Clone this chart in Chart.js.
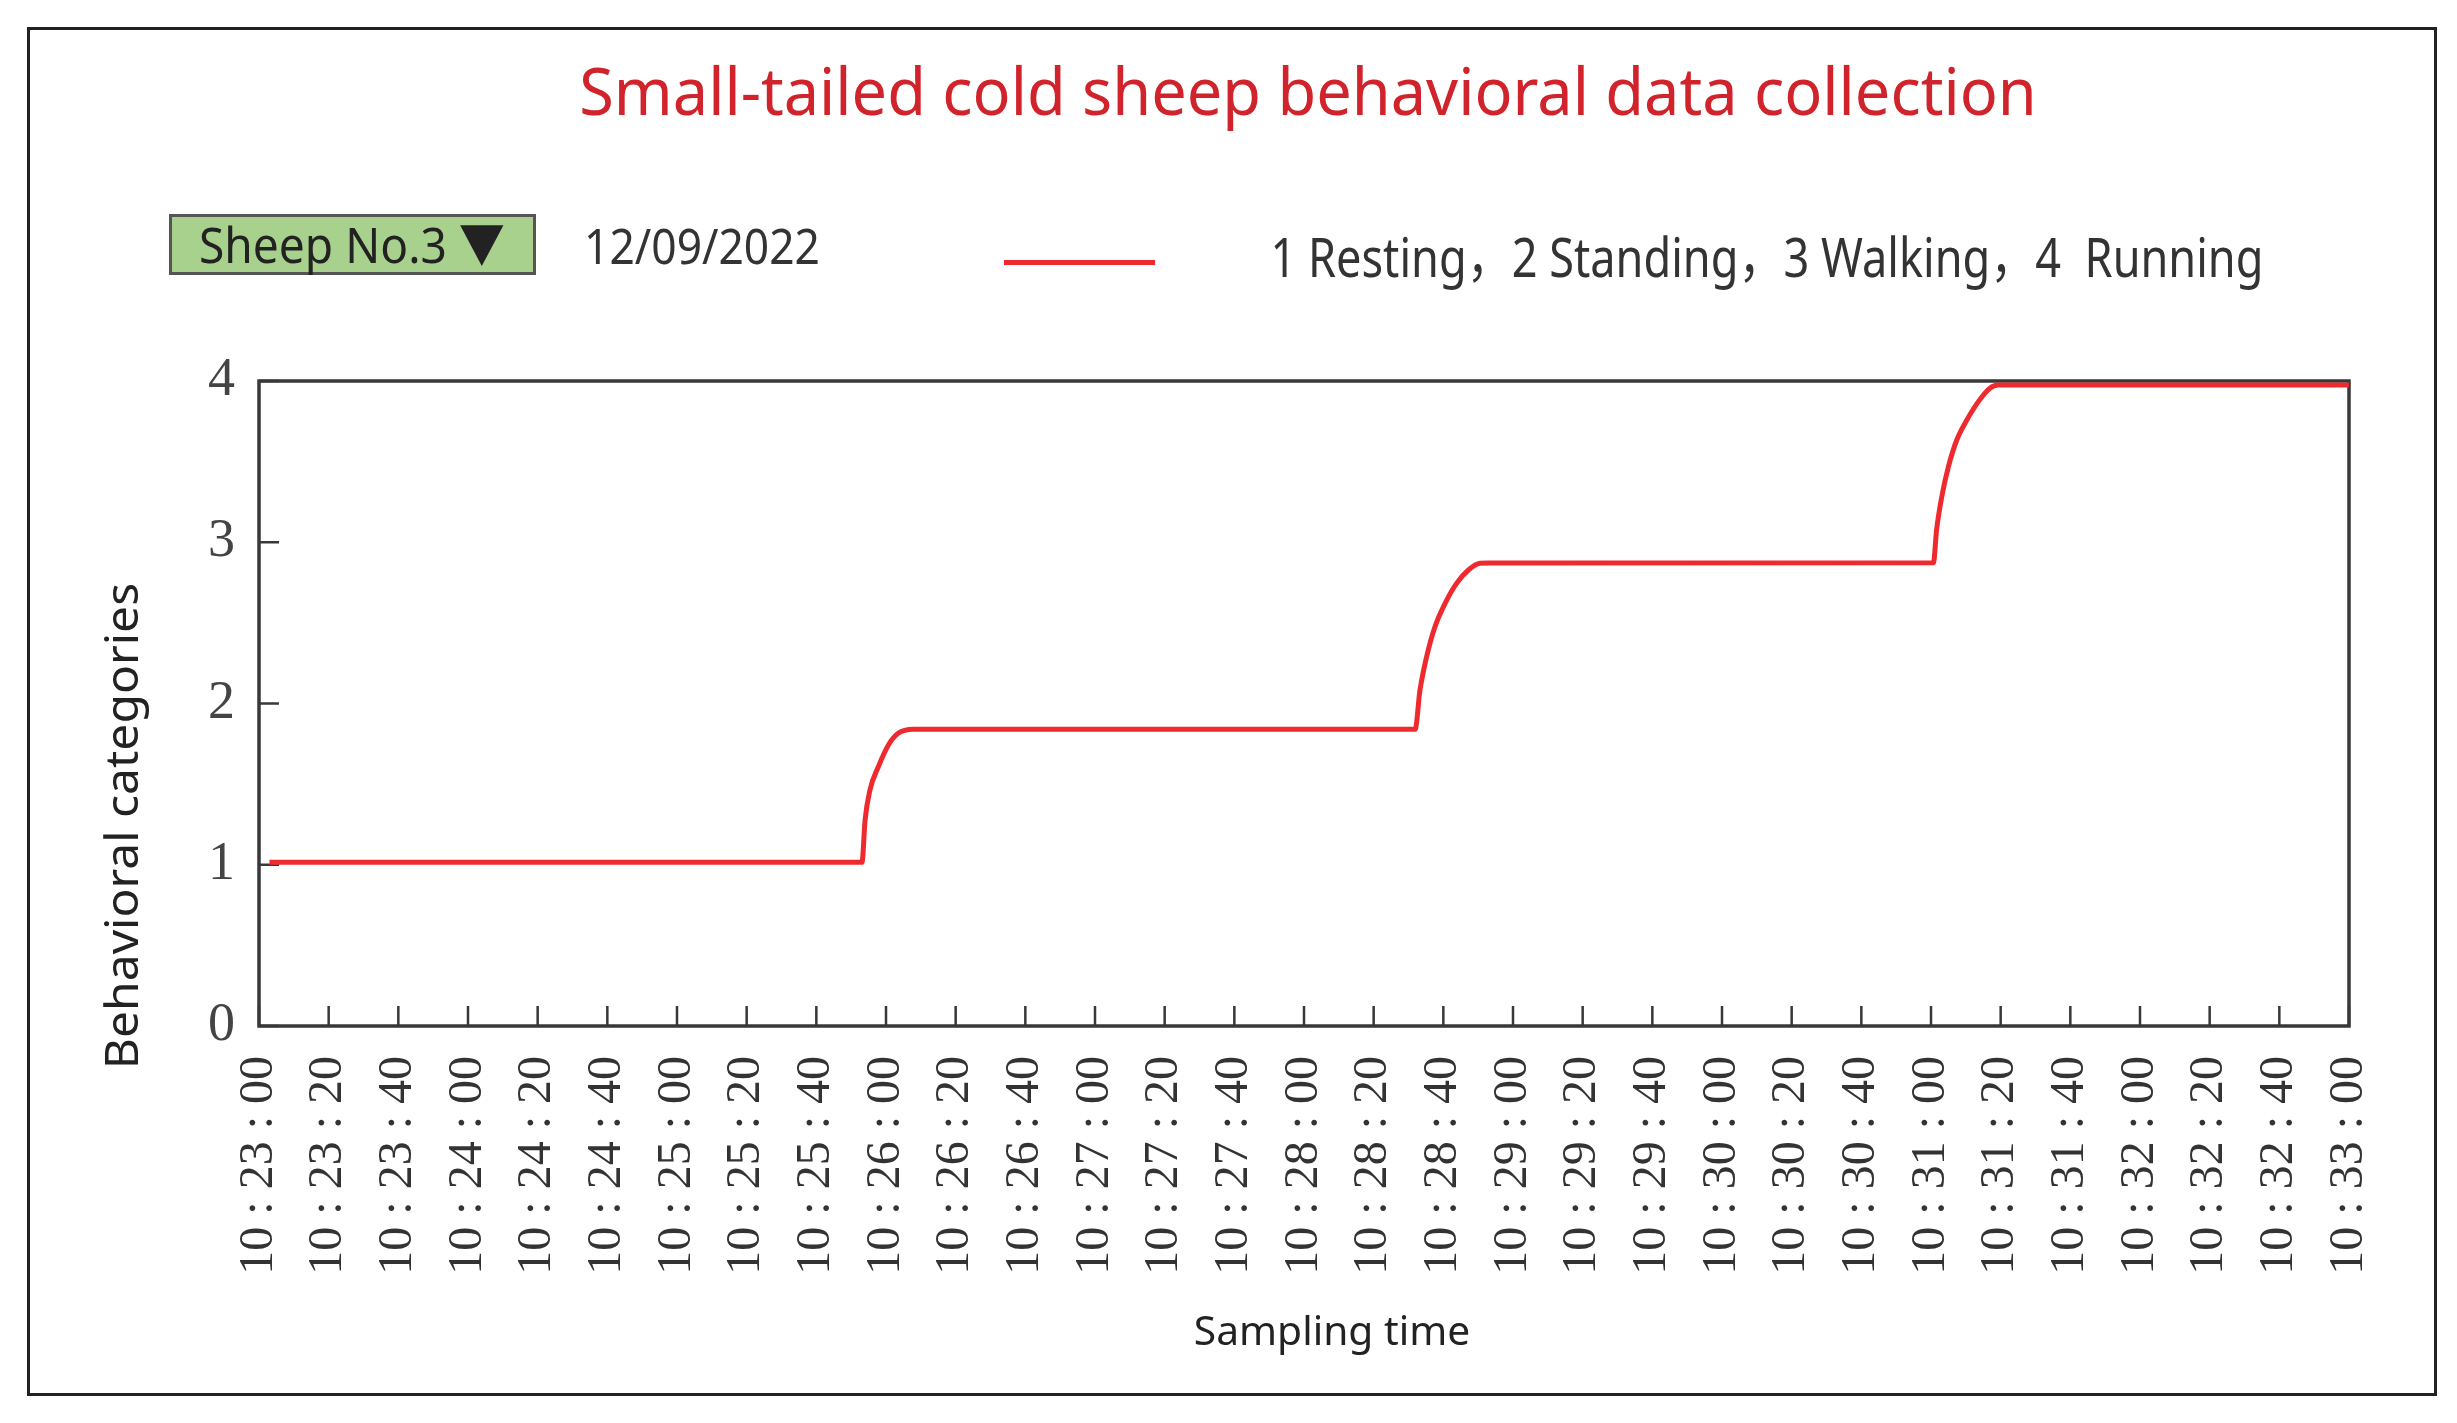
<!DOCTYPE html>
<html>
<head>
<meta charset="utf-8">
<script src="https://cdn.jsdelivr.net/npm/chart.js@4.4.1/dist/chart.umd.min.js"></script>
<style>
  body { margin: 0; width: 2457px; height: 1423px; background: #fff; overflow: hidden; position: relative; font-family: "Noto Sans", "Noto Sans CJK SC", sans-serif; }
  #wrap { position: absolute; left: 0; top: 0; width: 2457px; height: 1423px; }
  #frame { position: absolute; left: 27px; top: 27px; width: 2410px; height: 1369px; box-sizing: border-box; border: 3px solid #222; z-index: 3; pointer-events: none; }
  #sheepBox { position: absolute; left: 169px; top: 214px; width: 367px; height: 61px; box-sizing: border-box; background: #a9d18e; border: 3px solid #555; z-index: 2; }
  #legendLine { position: absolute; left: 1004px; top: 260px; width: 151px; height: 5px; background: #ee2a2e; z-index: 2; }
  .lbl { position: absolute; white-space: pre; line-height: 1; transform: translate(-50%, -50%); transform-origin: 50% 50%; z-index: 4; }
  #title { left: 1308px; top: 89px; font-size: 66px; color: #d0232b; }
  #sheep { left: 352px; top: 244px; font-size: 50px; color: #222; }
  #date { left: 702px; top: 245px; font-size: 50px; color: #333; }
  #legendText { left: 1767px; top: 256px; font-size: 54px; color: #333; }
  #yTitle { left: 120px; top: 826px; font-size: 46px; color: #222; }
  #xTitle { left: 1332px; top: 1330px; font-size: 40px; color: #222; }
</style>
</head>
<body>
<div id="wrap"><canvas id="behaviourChart"></canvas></div>
<div id="frame"></div>
<div id="sheepBox"></div>
<div id="legendLine"></div>
<div class="lbl" id="title" data-w="1457">Small-tailed cold sheep behavioral data collection</div>
<div class="lbl" id="sheep" data-w="306">Sheep No.3 ▼</div>
<div class="lbl" id="date" data-w="236">12/09/2022</div>
<div class="lbl" id="legendText" data-w="993"></div>
<div class="lbl" id="yTitle" data-w="486" data-rot="1">Behavioral categories</div>
<div class="lbl" id="xTitle" data-w="276">Sampling time</div>
<script>
// axis labels, 20 s apart starting at 10:23:00
const timeLabels = [
    '10:23:00', '10:23:20', '10:23:40', '10:24:00', '10:24:20', '10:24:40',
    '10:25:00', '10:25:20', '10:25:40', '10:26:00', '10:26:20', '10:26:40',
    '10:27:00', '10:27:20', '10:27:40', '10:28:00', '10:28:20', '10:28:40',
    '10:29:00', '10:29:20', '10:29:40', '10:30:00', '10:30:20', '10:30:40',
    '10:31:00', '10:31:20', '10:31:40', '10:32:00', '10:32:20', '10:32:40',
    '10:33:00'
];
const tickStepSec = 20;
const categoryTicks = [0, 1, 2, 3, 4];

// sampled behaviour curve (seconds after 10:23:00, category value)
const sampleSec = [3, 173.1, 174.0, 175.4, 177.8, 180.7, 183.5, 187.8, 191,
    331.9, 333.3, 335.2, 337.6, 340.5, 343.8, 347.2, 350.5, 353,
    480.7, 481.6, 483.1, 485.0, 487.4, 490.3, 493.6, 496.9, 499.3, 502, 600];
const behaviour = [1.015, 1.015, 1.278, 1.464, 1.608, 1.743, 1.815, 1.84, 1.84,
    1.84, 2.084, 2.29, 2.476, 2.621, 2.745, 2.828, 2.87, 2.872,
    2.873, 3.076, 3.283, 3.469, 3.634, 3.758, 3.872, 3.955, 3.975, 3.975, 3.975];

const seriesLabel = '1 Resting，2 Standing，3 Walking，4  Running';
const lineColor = '#ee2a2e';
const axisColor = '#383838';

document.getElementById('legendText').textContent = seriesLabel;

// frame round the plot plus inward tick marks
const plotFrame = {
    id: 'plotFrame',
    beforeDatasetsDraw(chart) {
        const { ctx, chartArea: a, scales: { x, y } } = chart;
        ctx.save();
        ctx.strokeStyle = axisColor;
        ctx.lineWidth = 3.5;
        ctx.strokeRect(a.left, a.top, a.right - a.left, a.bottom - a.top);
        ctx.lineWidth = 2.5;
        ctx.beginPath();
        x.ticks.forEach(t => {
            const px = x.getPixelForValue(t.value);
            ctx.moveTo(px, a.bottom);
            ctx.lineTo(px, a.bottom - 20);
        });
        y.ticks.forEach(t => {
            const py = y.getPixelForValue(t.value);
            ctx.moveTo(a.left, py);
            ctx.lineTo(a.left + 20, py);
        });
        ctx.stroke();
        ctx.restore();
    }
};

const serif = '"Liberation Serif", serif';

new Chart(document.getElementById('behaviourChart'), {
    type: 'line',
    data: {
        datasets: [{
            label: seriesLabel,
            data: sampleSec.map((s, i) => ({ x: s, y: behaviour[i] })),
            borderColor: lineColor,
            borderWidth: 5,
            pointRadius: 0,
            fill: false,
            cubicInterpolationMode: 'monotone'
        }]
    },
    options: {
        responsive: true,
        maintainAspectRatio: false,
        animation: false,
        layout: { padding: { top: 381, right: 108, left: 0, bottom: 0 } },
        plugins: { legend: { display: false }, tooltip: { enabled: false } },
        scales: {
            x: {
                type: 'linear',
                min: 0,
                max: (timeLabels.length - 1) * tickStepSec,
                afterFit: s => { s.height = 397; },
                grid: { display: false, drawTicks: false },
                border: { display: false },
                ticks: {
                    stepSize: tickStepSec,
                    autoSkip: false,
                    minRotation: 90,
                    maxRotation: 90,
                    padding: 30,
                    color: '#333',
                    font: { family: serif, size: 48 },
                    // the figure sets its colons apart
                    callback: v => timeLabels[Math.round(v / tickStepSec)].replace(/:/g, ' : ')
                }
            },
            y: {
                min: categoryTicks[0],
                max: categoryTicks[categoryTicks.length - 1],
                afterFit: s => { s.width = 259; },
                grid: { display: false, drawTicks: false },
                border: { display: false },
                ticks: {
                    stepSize: 1,
                    padding: 24,
                    color: '#444',
                    font: { family: serif, size: 54 }
                }
            }
        }
    },
    plugins: [plotFrame]
});

// squeeze/stretch header texts to the widths they take in the figure
function fitLabels() {
    document.querySelectorAll('.lbl').forEach(el => {
        const k = el.dataset.w / el.offsetWidth;
        const rot = el.dataset.rot ? ' rotate(-90deg)' : '';
        el.style.transform = 'translate(-50%, -50%)' + rot + ' scaleX(' + k.toFixed(3) + ')';
    });
}
fitLabels();
document.fonts.ready.then(fitLabels);
</script>
</body>
</html>
